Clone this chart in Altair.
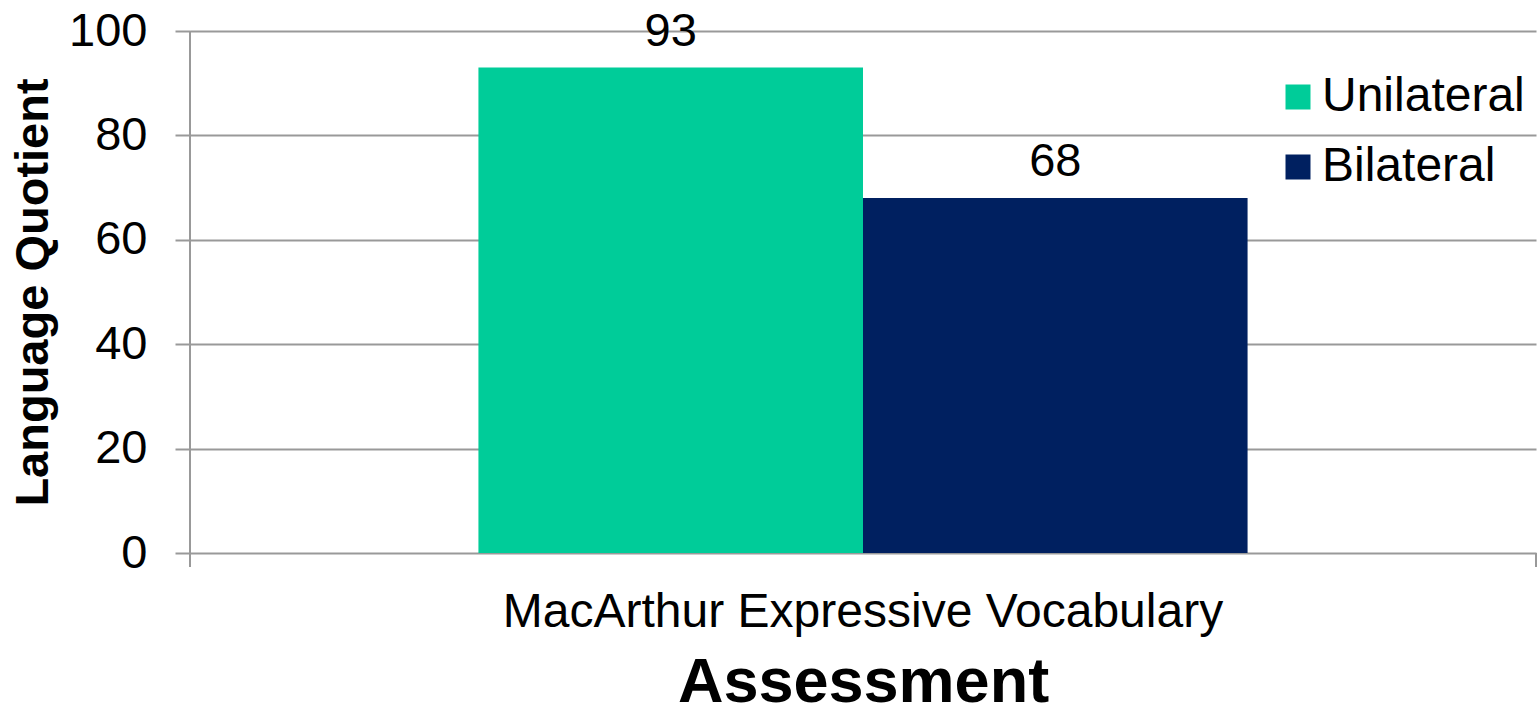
import altair as alt
import pandas as pd

# Language quotient by hearing-loss group
assessments = ["MacArthur Expressive Vocabulary", "MacArthur Expressive Vocabulary"]
groups = ["Unilateral", "Bilateral"]
scores = [93, 68]
group_colors = ["#00CC99", "#002060"]
y_ticks = [0, 20, 40, 60, 80, 100]

df = pd.DataFrame({"assessment": assessments, "group": groups, "score": scores})

FONT = "Liberation Sans"
GRID = "#999999"
PLOT_W, PLOT_H = 1346, 522

base = alt.Chart(df).encode(
    x=alt.X(
        "assessment:N",
        title="Assessment",
        scale=alt.Scale(paddingOuter=0.375, paddingInner=0),
        axis=alt.Axis(
            labelAngle=0,
            labelFont=FONT,
            labelFontSize=48,
            labelColor="#000000",
            labelBaseline="alphabetic",
            labelPadding=73,
            labelLimit=0,
            ticks=False,
            tickSize=0,
            domain=False,
            titleFont=FONT,
            titleFontSize=63,
            titleFontWeight="bold",
            titleColor="#000000",
            titleBaseline="alphabetic",
            titleY=148,
            titleLimit=0,
        ),
    ),
    xOffset=alt.XOffset(
        "group:N", sort=groups, scale=alt.Scale(paddingInner=0, paddingOuter=0)
    ),
    y=alt.Y(
        "score:Q",
        title="Language Quotient",
        scale=alt.Scale(domain=[0, 100], nice=False),
        axis=alt.Axis(
            values=y_ticks,
            grid=True,
            gridColor=GRID,
            gridWidth=2,
            domain=False,
            ticks=True,
            tickSize=15,
            tickColor=GRID,
            tickWidth=2,
            labelFont=FONT,
            labelFontSize=47,
            labelColor="#000000",
            labelPadding=28,
            titleFont=FONT,
            titleFontSize=47,
            titleFontWeight="bold",
            titleColor="#000000",
            titleAngle=270,
            titleAlign="center",
            titleBaseline="alphabetic",
            titleX=-143,
            titleY=PLOT_H / 2,
            titleLimit=0,
        ),
    ),
)

bars = base.mark_bar(stroke=None).encode(
    color=alt.Color(
        "group:N",
        sort=groups,
        scale=alt.Scale(domain=groups, range=group_colors),
        legend=alt.Legend(
            title=None,
            orient="none",
            legendX=1084,
            legendY=42,
            symbolType="square",
            symbolSize=625,
            symbolStrokeWidth=0,
            labelFont=FONT,
            labelFontSize=48,
            labelColor="#000000",
            labelOffset=0,
            labelLimit=0,
            rowPadding=22,
            padding=0,
        ),
    )
)

labels = base.mark_text(
    font=FONT, fontSize=47, color="#000000", baseline="alphabetic", dy=-22
).encode(text="score:Q")

# Axis line on the left, extended past the baseline, and the closing tick on the right
left_axis = alt.Chart(pd.DataFrame({"k": [0]})).mark_rule(
    color=GRID, strokeWidth=2
).encode(x=alt.value(0), y=alt.value(0), y2=alt.value(PLOT_H + 14))

right_tick = alt.Chart(pd.DataFrame({"k": [0]})).mark_rule(
    color=GRID, strokeWidth=2
).encode(x=alt.value(PLOT_W), y=alt.value(PLOT_H), y2=alt.value(PLOT_H + 14))

chart = (
    alt.layer(bars, labels, left_axis, right_tick)
    .properties(
        width=PLOT_W,
        height=PLOT_H,
        autosize=alt.AutoSizeParams(type="none"),
        padding={"left": 190, "top": 31, "right": 1, "bottom": 157},
        background="white",
    )
    .configure_view(stroke=None)
)

chart.save("out.html", embed_options={"renderer": "svg", "actions": False})
